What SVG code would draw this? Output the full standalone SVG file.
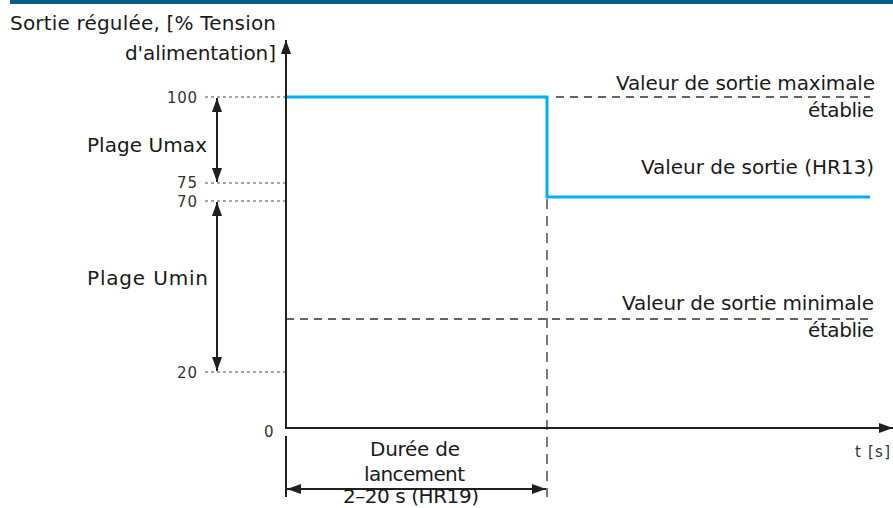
<svg xmlns="http://www.w3.org/2000/svg" width="893" height="508" viewBox="0 0 893 508">
<style>
text{font-family:"DejaVu Sans","Liberation Sans",sans-serif;fill:#1a1a1a}
.lab{font-size:20px}
.tick{font-size:15px;fill:#333}
.dot{stroke:#888;stroke-width:1.3;stroke-dasharray:3,3;fill:none}
.dash{stroke:#333;stroke-width:1.3;stroke-dasharray:8,6;fill:none}
.ax{stroke:#231f20;stroke-width:2;fill:none}
.blue{stroke:#00b0f0;stroke-width:3;fill:none}
</style>
<defs>
<marker id="ah" viewBox="0 0 14 10" refX="14" refY="5" markerWidth="14" markerHeight="10" markerUnits="userSpaceOnUse" orient="auto-start-reverse">
<path d="M0,0L14,5L0,10z" fill="#231f20"/>
</marker>
</defs>
<rect x="10" y="0" width="883" height="4" fill="#0a5a8c"/>
<g id="connectors">
<line class="dot" x1="205" y1="97" x2="286" y2="97"/>
<line class="dot" x1="205" y1="183" x2="286" y2="183"/>
<line class="dot" x1="205" y1="201" x2="286" y2="201"/>
<line class="dot" x1="205" y1="372" x2="286" y2="372"/>
<line class="dash" x1="556" y1="97" x2="870" y2="97"/>
<line class="dash" x1="286" y1="319" x2="870" y2="319"/>
<line class="dash" x1="547" y1="199" x2="547" y2="497" style="stroke-dasharray:10,7"/>
<line class="ax" x1="286" y1="428" x2="286" y2="40" marker-end="url(#ah)"/>
<line class="ax" x1="285" y1="428" x2="893" y2="428" marker-end="url(#ah)"/>
<line class="ax" x1="286" y1="436" x2="286" y2="497"/>
<line class="ax" x1="287" y1="489" x2="546" y2="489" marker-start="url(#ah)" marker-end="url(#ah)"/>
<line class="ax" x1="217" y1="98" x2="217" y2="182" marker-start="url(#ah)" marker-end="url(#ah)"/>
<line class="ax" x1="217" y1="202" x2="217" y2="371" marker-start="url(#ah)" marker-end="url(#ah)"/>
<polyline class="blue" points="287,97 547,97 547,197 870,197"/>
</g>
<g id="yaxis-title">
<text class="lab" x="10" y="30" textLength="266" lengthAdjust="spacing">Sortie régulée, [% Tension</text>
<text class="lab" x="125" y="60" textLength="151" lengthAdjust="spacing">d'alimentation]</text>
</g>
<g id="ticks">
<text class="tick" x="167" y="103" textLength="30" lengthAdjust="spacing">100</text>
<text class="tick" x="177" y="188" textLength="20" lengthAdjust="spacing">75</text>
<text class="tick" x="177" y="207" textLength="20" lengthAdjust="spacing">70</text>
<text class="tick" x="177" y="378" textLength="20" lengthAdjust="spacing">20</text>
<text class="tick" x="264" y="437">0</text>
<text class="tick" x="855" y="457" textLength="35" lengthAdjust="spacing">t [s]</text>
</g>
<g id="umax"><text class="lab" x="87" y="152" textLength="120" lengthAdjust="spacing">Plage Umax</text></g>
<g id="umin"><text class="lab" x="87" y="285" textLength="121" lengthAdjust="spacing">Plage Umin</text></g>
<g id="max-label">
<text class="lab" x="616" y="90" textLength="259" lengthAdjust="spacing">Valeur de sortie maximale</text>
<text class="lab" x="808" y="117" textLength="66" lengthAdjust="spacing">établie</text>
</g>
<g id="out-label"><text class="lab" x="641" y="174" textLength="233" lengthAdjust="spacing">Valeur de sortie (HR13)</text></g>
<g id="min-label">
<text class="lab" x="622" y="310" textLength="252" lengthAdjust="spacing">Valeur de sortie minimale</text>
<text class="lab" x="808" y="337" textLength="66" lengthAdjust="spacing">établie</text>
</g>
<g id="duration">
<text class="lab" x="370" y="456" textLength="90" lengthAdjust="spacing">Durée de</text>
<text class="lab" x="364" y="481" textLength="101" lengthAdjust="spacing">lancement</text>
<text class="lab" x="343" y="503" textLength="136" lengthAdjust="spacing">2–20 s (HR19)</text>
</g>
</svg>
